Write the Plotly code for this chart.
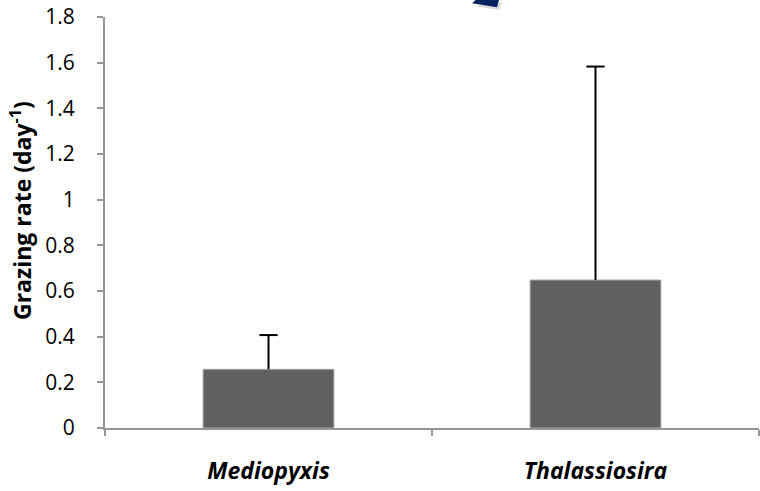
import plotly.graph_objects as go

categories = ["Mediopyxis", "Thalassiosira"]
grazing_rate = [0.257, 0.648]
error_plus = [0.150, 0.935]
y_ticks = [0, 0.2, 0.4, 0.6, 0.8, 1, 1.2, 1.4, 1.6, 1.8]
y_tick_labels = ["0", "0.2", "0.4", "0.6", "0.8", "1", "1.2", "1.4", "1.6", "1.8"]
y_title = "<b>Grazing rate (day<sup>-1</sup>)</b>"

fig = go.Figure()
fig.add_trace(go.Bar(
    x=categories, y=grazing_rate, width=0.4,
    marker=dict(color="#606060", line=dict(color="#a6a6a6", width=1)),
    showlegend=False, hoverinfo="skip",
))
# upward-only error bars (stem + cap)
stem_x, stem_y = [], []
for c, v, e in zip(categories, grazing_rate, error_plus):
    stem_x += [c, c, None]
    stem_y += [v, v + e, None]
fig.add_trace(go.Scatter(
    x=stem_x, y=stem_y, mode="lines",
    line=dict(color="black", width=2), showlegend=False, hoverinfo="skip",
))
fig.add_trace(go.Scatter(
    x=categories, y=[v + e for v, e in zip(grazing_rate, error_plus)],
    mode="markers",
    marker=dict(symbol="line-ew-open", size=13, color="black",
                line=dict(color="black", width=2)),
    showlegend=False, hoverinfo="skip",
))

L, R, T, B, W, H = 105, 1, 17, 63, 760, 491
pw, ph = W - L - R, H - T - B
def px(x): return (x - L) / pw
def py(y): return (H - B - y) / ph
shadow = f"M {px(474)},{py(6)} L {px(499)},{py(10)} L {px(502)},{py(2)} Z"
arrow = f"M {px(472)},{py(3.3)} L {px(480)},{py(-4)} L {px(500)},{py(-4)} L {px(497)},{py(7.3)} Z"
fig.add_shape(type="path", path=shadow, xref="paper", yref="paper",
              fillcolor="rgba(150,150,150,0.35)", line=dict(width=0), layer="above")
fig.add_shape(type="path", path=arrow, xref="paper", yref="paper",
              fillcolor="#002060", line=dict(width=0), layer="above")

fig.add_annotation(
    text=y_title, xref="paper", yref="paper", x=px(21), y=py(211),
    xanchor="center", yanchor="middle", textangle=-90, showarrow=False,
    font=dict(size=23, family="Open Sans", color="black"),
)

fig.update_layout(
    width=W, height=H,
    margin=dict(l=L, r=R, t=T, b=B, autoexpand=False),
    paper_bgcolor="white", plot_bgcolor="white",
    font=dict(family="Open Sans", color="black"),
    bargap=0.6,
)
fig.update_xaxes(
    type="category", range=[-0.5, 1.5], automargin=False,
    showline=True, linecolor="#969696", linewidth=2,
    ticks="outside", tickson="boundaries", ticklen=6, tickcolor="#969696", tickwidth=2,
    tickfont=dict(size=23, weight="bold", style="italic", family="Open Sans"),
    ticklabelstandoff=21,
    showgrid=False, zeroline=False,
)
fig.update_yaxes(
    range=[0, 1.8], tickvals=y_ticks, ticktext=y_tick_labels, automargin=False,
    showline=True, linecolor="#969696", linewidth=2,
    ticks="outside", ticklen=6, tickcolor="#969696", tickwidth=2,
    tickfont=dict(size=21),
    ticklabelstandoff=18,
    showgrid=False, zeroline=False,
)
fig.write_html(
    "out.html",
    config={"displayModeBar": False},
    post_script="document.body.style.margin='0';document.body.style.overflow='hidden';",
)
